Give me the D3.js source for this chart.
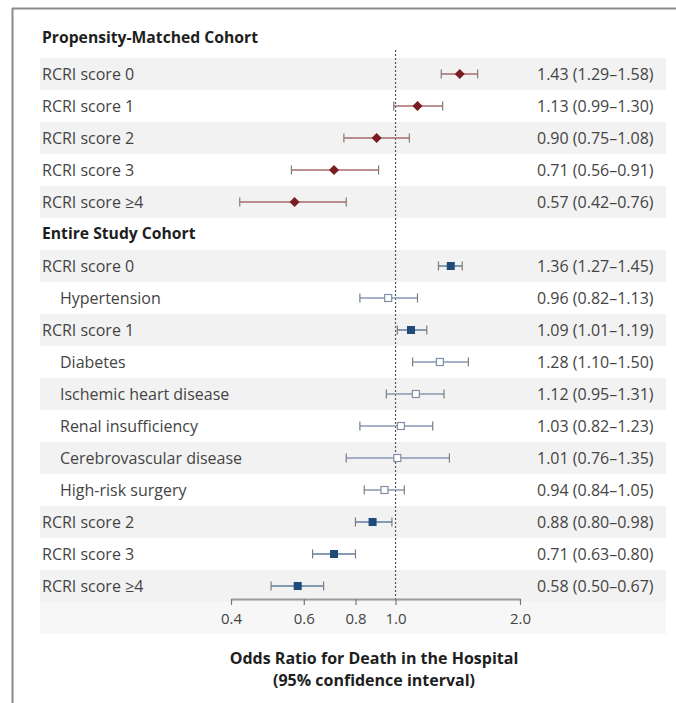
<!DOCTYPE html>
<html>
<head>
<meta charset="utf-8">
<script src="https://cdn.jsdelivr.net/npm/d3@7"></script>
<style>
  html, body { margin: 0; padding: 0; background: #fff; }
  svg { display: block; font-family: "Open Sans", "Noto Sans", sans-serif; }
</style>
</head>
<body>
<svg id="chart" width="676" height="703"></svg>
<script>
// Propensity-matched cohort
const matchedLabels = ["RCRI score 0", "RCRI score 1", "RCRI score 2", "RCRI score 3", "RCRI score \u22654"];
const matchedOR     = [1.43, 1.13, 0.90, 0.71, 0.57];
const matchedLow    = [1.29, 0.99, 0.75, 0.56, 0.42];
const matchedHigh   = [1.58, 1.30, 1.08, 0.91, 0.76];

// Entire study cohort (indented rows are individual risk factors)
const entireLabels = ["RCRI score 0", "Hypertension", "RCRI score 1", "Diabetes",
  "Ischemic heart disease", "Renal insufficiency", "Cerebrovascular disease",
  "High-risk surgery", "RCRI score 2", "RCRI score 3", "RCRI score \u22654"];
const entireOR     = [1.36, 0.96, 1.09, 1.28, 1.12, 1.03, 1.01, 0.94, 0.88, 0.71, 0.58];
const entireLow    = [1.27, 0.82, 1.01, 1.10, 0.95, 0.82, 0.76, 0.84, 0.80, 0.63, 0.50];
const entireHigh   = [1.45, 1.13, 1.19, 1.50, 1.31, 1.23, 1.35, 1.05, 0.98, 0.80, 0.67];
const entireFactor = [false, true, false, true, true, true, true, true, false, false, false];

const sectionTitles = ["Propensity-Matched Cohort", "Entire Study Cohort"];
const tickValues = [0.4, 0.6, 0.8, 1.0, 2.0];
const tickLabels = ["0.4", "0.6", "0.8", "1.0", "2.0"];
const axisTitle = ["Odds Ratio for Death in the Hospital", "(95% confidence interval)"];

const fmt = d3.format(".2f");

// Build the row list: matched rows, header, entire rows, then the axis row
const rows = [];
matchedLabels.forEach((l, i) => rows.push({id: "m" + i, kind: "matched", label: l,
  or: matchedOR[i], lo: matchedLow[i], hi: matchedHigh[i], indent: false}));
rows.push({id: "h1", kind: "header", label: sectionTitles[1]});
entireLabels.forEach((l, i) => rows.push({id: "e" + i, kind: entireFactor[i] ? "factor" : "entire",
  label: l, or: entireOR[i], lo: entireLow[i], hi: entireHigh[i], indent: entireFactor[i]}));
rows.push({id: "axis", kind: "axis"});

const svg = d3.select("#chart");

// Outer frame (top and left rules)
svg.append("line").attr("x1", 12).attr("x2", 676).attr("y1", 8.5).attr("y2", 8.5)
  .attr("stroke", "#8a8a8a").attr("stroke-width", 2);
svg.append("line").attr("x1", 12.5).attr("x2", 12.5).attr("y1", 8).attr("y2", 703)
  .attr("stroke", "#8a8a8a").attr("stroke-width", 2);

const y = d3.scaleBand().domain(rows.map(r => r.id)).range([58, 58 + 32 * rows.length]);
const x = d3.scaleLog().domain([0.4, 2.0]).range([231, 520]);

// Alternating row shading
const shaded = new Set(["m0", "m2", "m4", "e0", "e2", "e4", "e6", "e8", "e10"]);
svg.append("g").selectAll("rect").data(rows.filter(r => shaded.has(r.id) || r.kind === "axis"))
  .join("rect")
  .attr("x", 40).attr("width", 626)
  .attr("y", d => y(d.id)).attr("height", y.bandwidth())
  .attr("fill", d => d.kind === "axis" ? "#f7f7f7" : "#f2f2f2");

// Section titles
svg.append("text").attr("x", 42).attr("y", 38).attr("dy", "0.35em")
  .attr("font-size", 15.7).attr("font-weight", 700).attr("fill", "#1e1e1e")
  .text(sectionTitles[0]);

const cy = d => y(d.id) + y.bandwidth() / 2;

// Reference line at OR = 1
svg.append("line").attr("x1", x(1)).attr("x2", x(1)).attr("y1", 50).attr("y2", y("axis"))
  .attr("stroke", "#555").attr("stroke-width", 1.2).attr("stroke-dasharray", "2,2");

// Axis
const axisG = svg.append("g").attr("transform", `translate(0,${y("axis") - 3})`)
  .call(d3.axisBottom(x).tickValues(tickValues).tickFormat((d, i) => tickLabels[i])
    .tickSizeOuter(0).tickSizeInner(6).tickPadding(8));
axisG.select(".domain").attr("stroke", "#9a9a9a").attr("stroke-width", 2);
axisG.selectAll(".tick line").attr("stroke", "#777").attr("stroke-width", 1.2);
axisG.selectAll(".tick text").attr("font-family", "Open Sans, sans-serif")
  .attr("font-size", 15).attr("fill", "#444");

// Row labels and values
const dataRows = rows.filter(r => r.kind !== "axis");
svg.append("g").selectAll("text").data(dataRows).join("text")
  .attr("x", d => d.indent ? 60 : 42).attr("y", cy).attr("dy", "0.35em")
  .attr("font-size", d => d.kind === "header" ? 15.7 : 16)
  .attr("font-weight", d => d.kind === "header" ? 700 : 400)
  .attr("fill", d => d.kind === "header" ? "#1e1e1e" : "#444")
  .text(d => d.label);

const markRows = rows.filter(r => r.or !== undefined);
svg.append("g").selectAll("text").data(markRows).join("text")
  .attr("x", 537).attr("y", cy).attr("dy", "0.35em")
  .attr("font-size", 16).attr("fill", "#444")
  .text(d => `${fmt(d.or)} (${fmt(d.lo)}\u2013${fmt(d.hi)})`);

// Confidence intervals
const ciColor = d => d.kind === "matched" ? "#a86a6a" : (d.kind === "factor" ? "#8797b0" : "#5f7c9c");
const ci = svg.append("g").selectAll("g").data(markRows).join("g");
ci.append("line").attr("x1", d => x(d.lo)).attr("x2", d => x(d.hi))
  .attr("y1", cy).attr("y2", cy).attr("stroke", ciColor).attr("stroke-width", 1.5);
ci.append("line").attr("x1", d => x(d.lo)).attr("x2", d => x(d.lo))
  .attr("y1", d => cy(d) - 4.5).attr("y2", d => cy(d) + 4.5)
  .attr("stroke", "#7d7d7d").attr("stroke-width", 1.2);
ci.append("line").attr("x1", d => x(d.hi)).attr("x2", d => x(d.hi))
  .attr("y1", d => cy(d) - 4.5).attr("y2", d => cy(d) + 4.5)
  .attr("stroke", "#7d7d7d").attr("stroke-width", 1.2);

// Point estimates
ci.filter(d => d.kind === "matched").append("path")
  .attr("d", d3.symbol(d3.symbolDiamond2, 64))
  .attr("transform", d => `translate(${x(d.or)},${cy(d)})`)
  .attr("fill", "#7b1c22");
ci.filter(d => d.kind === "entire").append("rect")
  .attr("x", d => x(d.or) - 4).attr("y", d => cy(d) - 4).attr("width", 8).attr("height", 8)
  .attr("fill", "#1f4b78");
ci.filter(d => d.kind === "factor").append("rect")
  .attr("x", d => x(d.or) - 3.5).attr("y", d => cy(d) - 3.5).attr("width", 7).attr("height", 7)
  .attr("fill", "#fff").attr("stroke", "#7f8fa8").attr("stroke-width", 1.2);

// Axis title
svg.append("g").selectAll("text").data(axisTitle).join("text")
  .attr("x", 374).attr("y", (d, i) => 658 + i * 22)
  .attr("dy", "0.35em").attr("text-anchor", "middle")
  .attr("font-size", 16).attr("font-weight", 700).attr("fill", "#1e1e1e")
  .text(d => d);
</script>
</body>
</html>
